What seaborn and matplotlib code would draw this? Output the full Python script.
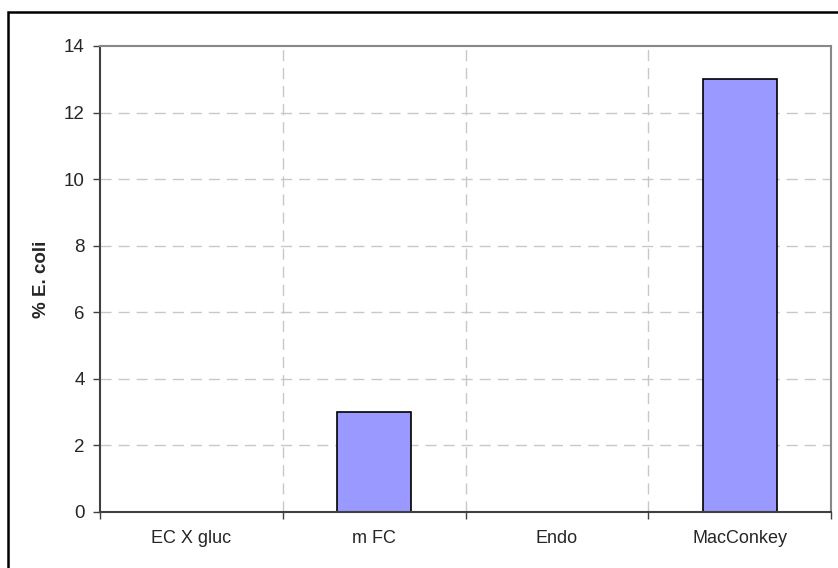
import matplotlib
matplotlib.use("Agg")
import matplotlib.pyplot as plt
import seaborn as sns
import pandas as pd
from matplotlib.patches import Rectangle

categories = ["EC X gluc", "m FC", "Endo", "MacConkey"]
values = [0, 3, 0, 13]
y_ticks = [0, 2, 4, 6, 8, 10, 12, 14]
y_label = "% E. coli"

sns.set_style("white")
plt.rcParams['font.family'] = ['Liberation Sans', 'DejaVu Sans']

W, H = 838, 568
fig = plt.figure(figsize=(W / 100, H / 100), dpi=100)
left, right, top, bottom = 100, 831, 46, 512
ax = fig.add_axes([left / W, 1 - bottom / H, (right - left) / W, (bottom - top) / H])

df = pd.DataFrame({"cat": categories, "val": values})
sns.barplot(data=df, x="cat", y="val", ax=ax, color="#9999FF", saturation=1,
            width=0.405, edgecolor="black", linewidth=1.2, zorder=3)

ax.set_xlim(-0.5, len(categories) - 0.5)
ax.set_ylim(0, 14)
ax.set_yticks(y_ticks)
ax.set_yticklabels([str(t) for t in y_ticks], fontsize=13.5)
ax.set_xticks(range(len(categories)))
ax.set_xticklabels(categories, fontsize=13)
ax.tick_params(axis="x", length=0, pad=13)
ax.tick_params(axis="y", length=5, width=1, color="#404040", pad=6, left=True, direction="out")
ax.set_xticks([i - 0.5 for i in range(len(categories) + 1)], minor=True)
ax.tick_params(axis="x", which="minor", length=5, width=1, color="#404040", bottom=True, direction="out")

ax.set_xlabel("")
ax.set_ylabel(y_label, fontsize=13.5, fontweight="bold")
ax.yaxis.set_label_coords((50 - left) / (right - left), 0.5)

for y in y_ticks[1:-1]:
    ax.axhline(y, color="#c8c8c8", linestyle=(0, (8, 5)), linewidth=1, zorder=1)
for x in [0.5, 1.5, 2.5]:
    ax.axvline(x, color="#c8c8c8", linestyle=(0, (8, 5)), linewidth=1, zorder=1)

for side in ["left", "bottom"]:
    ax.spines[side].set_color("#404040")
    ax.spines[side].set_linewidth(1.5)
for side in ["top", "right"]:
    ax.spines[side].set_color("#888888")
    ax.spines[side].set_linewidth(1.5)
ax.spines["bottom"].set_zorder(4)

fig.patches.append(Rectangle((8 / W, -0.05), 1.1, 1 - 12 / H + 0.05, transform=fig.transFigure,
                             fill=False, edgecolor="black", linewidth=1.8, zorder=10))

fig.savefig("out.png", dpi=100, facecolor="white")
